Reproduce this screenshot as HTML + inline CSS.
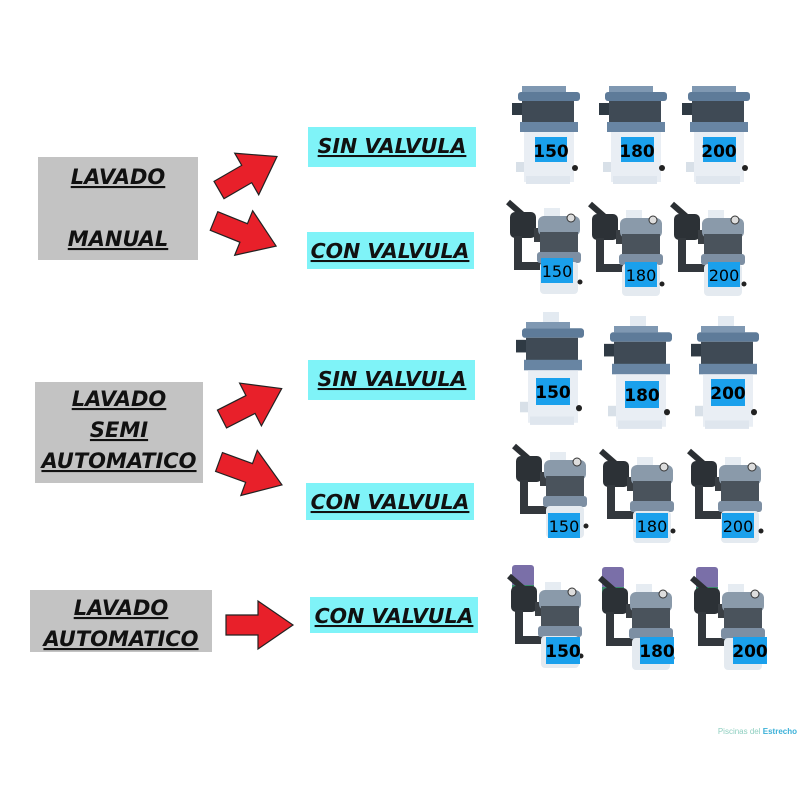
<!DOCTYPE html>
<html><head><meta charset="utf-8"><style>
body{margin:0;background:#fff;}
svg{display:block}
.t{font-family:"DejaVu Sans","Liberation Sans",sans-serif;font-weight:bold;font-style:italic;font-size:20.5px;fill:#111;text-decoration:underline;}
.g{font-size:21px;}
.n{font-family:"DejaVu Sans","Liberation Sans",sans-serif;font-weight:bold;font-size:17px;fill:#000;}
.nl{font-family:"DejaVu Sans","Liberation Sans",sans-serif;font-size:16px;fill:#000;}
</style></head><body>
<svg width="800" height="800" viewBox="0 0 800 800" xmlns="http://www.w3.org/2000/svg">
<defs>
<path id="ar" d="M0,-10 L32,-10 L32,-24 L67,0 L32,24 L32,10 L0,10 Z" fill="#e8202a" stroke="#222" stroke-width="1.2"/>
<g id="sq">
 <rect x="4" y="0" width="44" height="6" fill="#7f98b2"/>
 <rect x="0" y="6" width="62" height="9" rx="3" fill="#5e7b99"/>
 <rect x="-6" y="17" width="10" height="12" fill="#2f3a44"/>
 <rect x="4" y="15" width="52" height="22" fill="#3f4a55"/>
 <rect x="2" y="36" width="58" height="10" fill="#6885a3"/>
 <rect x="6" y="46" width="50" height="50" fill="#e9eef4"/>
 <rect x="-2" y="76" width="8" height="10" fill="#d8e0e8"/>
 <rect x="8" y="90" width="44" height="8" fill="#dfe6ee"/>
 <circle cx="57" cy="82" r="3" fill="#222"/>
</g>
<g id="rd">
 <path d="M-30,0 L-14,14" stroke="#2b2f33" stroke-width="6"/>
 <rect x="-28" y="10" width="26" height="26" rx="5" fill="#2c3136"/>
 <path d="M-20,34 L-20,64 L6,64" stroke="#33383d" stroke-width="8" fill="none"/>
 <rect x="-4" y="26" width="8" height="14" fill="#3a3f44"/>
 <rect x="6" y="6" width="16" height="12" fill="#e6ecf2"/>
 <rect x="0" y="14" width="42" height="20" rx="6" fill="#8a9aaa"/>
 <rect x="2" y="30" width="38" height="22" fill="#4a535c"/>
 <rect x="-1" y="50" width="44" height="11" rx="3" fill="#7d8fa3"/>
 <rect x="2" y="60" width="38" height="32" rx="4" fill="#e4eaf0"/>
 <circle cx="33" cy="16" r="4" fill="#ddd" stroke="#333" stroke-width="1"/>
 <circle cx="42" cy="80" r="2.5" fill="#222"/>
</g>
<g id="au">
 <rect x="-26" y="0" width="22" height="22" rx="3" fill="#7a6fa8"/>
 <rect x="-26" y="20" width="22" height="8" fill="#3a8a6a"/>
</g>
</defs>

<rect x="38" y="157" width="160" height="103" fill="#c3c3c3"/>
<text class="t g" x="118" y="184" text-anchor="middle">LAVADO</text>
<text class="t g" x="118" y="246" text-anchor="middle">MANUAL</text>

<rect x="35" y="382" width="168" height="101" fill="#c3c3c3"/>
<text class="t g" x="119" y="406" text-anchor="middle">LAVADO</text>
<text class="t g" x="119" y="437" text-anchor="middle">SEMI</text>
<text class="t g" x="119" y="468" text-anchor="middle">AUTOMATICO</text>

<rect x="30" y="590" width="182" height="62" fill="#c3c3c3"/>
<text class="t g" x="121" y="615" text-anchor="middle">LAVADO</text>
<text class="t g" x="121" y="646" text-anchor="middle">AUTOMATICO</text>

<use href="#ar" transform="translate(219,190) rotate(-30)"/>
<use href="#ar" transform="translate(214,221) rotate(22)"/>
<use href="#ar" transform="translate(222,419) rotate(-27)"/>
<use href="#ar" transform="translate(219,462) rotate(20)"/>
<use href="#ar" transform="translate(226,625)"/>

<rect x="308" y="127" width="168" height="40" fill="#7ff3f8"/>
<text class="t" x="392" y="153" text-anchor="middle">SIN VALVULA</text>
<rect x="307" y="232" width="167" height="37" fill="#7ff3f8"/>
<text class="t" x="390" y="258" text-anchor="middle">CON VALVULA</text>
<rect x="308" y="360" width="167" height="40" fill="#7ff3f8"/>
<text class="t" x="392" y="386" text-anchor="middle">SIN VALVULA</text>
<rect x="306" y="483" width="168" height="37" fill="#7ff3f8"/>
<text class="t" x="390" y="509" text-anchor="middle">CON VALVULA</text>
<rect x="310" y="597" width="168" height="36" fill="#7ff3f8"/>
<text class="t" x="394" y="623" text-anchor="middle">CON VALVULA</text>

<use href="#sq" x="518" y="86"/><use href="#sq" x="605" y="86"/><use href="#sq" x="688" y="86"/>
<rect x="535" y="137" width="32" height="25" fill="#1aa0ec"/><text class="n" x="551" y="157" text-anchor="middle">150</text>
<rect x="621" y="137" width="33" height="25" fill="#1aa0ec"/><text class="n" x="637" y="157" text-anchor="middle">180</text>
<rect x="703" y="137" width="33" height="25" fill="#1aa0ec"/><text class="n" x="719" y="157" text-anchor="middle">200</text>

<use href="#rd" transform="translate(538,202)"/><use href="#rd" transform="translate(620,204)"/><use href="#rd" transform="translate(702,204)"/>
<rect x="541" y="258" width="32" height="25" fill="#1aa0ec"/><text class="nl" x="557" y="277" text-anchor="middle">150</text>
<rect x="625" y="262" width="32" height="25" fill="#1aa0ec"/><text class="nl" x="641" y="281" text-anchor="middle">180</text>
<rect x="708" y="262" width="32" height="25" fill="#1aa0ec"/><text class="nl" x="724" y="281" text-anchor="middle">200</text>

<rect x="543" y="312" width="16" height="16" fill="#e3eaf1"/>
<rect x="630" y="316" width="16" height="16" fill="#e3eaf1"/>
<rect x="718" y="316" width="16" height="16" fill="#e3eaf1"/>
<use href="#sq" transform="translate(522,322) scale(1,1.05)"/><use href="#sq" transform="translate(610,326) scale(1,1.05)"/><use href="#sq" transform="translate(697,326) scale(1,1.05)"/>
<rect x="536" y="378" width="34" height="27" fill="#1aa0ec"/><text class="n" x="553" y="398" text-anchor="middle">150</text>
<rect x="625" y="381" width="34" height="27" fill="#1aa0ec"/><text class="n" x="642" y="401" text-anchor="middle">180</text>
<rect x="711" y="379" width="34" height="27" fill="#1aa0ec"/><text class="n" x="728" y="399" text-anchor="middle">200</text>

<use href="#rd" transform="translate(544,446)"/><use href="#rd" transform="translate(631,451)"/><use href="#rd" transform="translate(719,451)"/>
<rect x="548" y="513" width="32" height="25" fill="#1aa0ec"/><text class="nl" x="564" y="532" text-anchor="middle">150</text>
<rect x="636" y="513" width="32" height="25" fill="#1aa0ec"/><text class="nl" x="652" y="532" text-anchor="middle">180</text>
<rect x="722" y="513" width="32" height="25" fill="#1aa0ec"/><text class="nl" x="738" y="532" text-anchor="middle">200</text>

<use href="#au" transform="translate(538,565)"/><use href="#au" transform="translate(628,567)"/><use href="#au" transform="translate(722,567)"/>
<use href="#rd" transform="translate(539,576)"/><use href="#rd" transform="translate(630,578)"/><use href="#rd" transform="translate(722,578)"/>
<rect x="546" y="637" width="34" height="27" fill="#1aa0ec"/><text class="n" x="563" y="657" text-anchor="middle">150</text>
<rect x="640" y="637" width="34" height="27" fill="#1aa0ec"/><text class="n" x="657" y="657" text-anchor="middle">180</text>
<rect x="733" y="637" width="34" height="27" fill="#1aa0ec"/><text class="n" x="750" y="657" text-anchor="middle">200</text>

<text x="797" y="734" text-anchor="end" font-family="Liberation Sans, sans-serif" font-size="8" fill="#8fcfc0">Piscinas del <tspan fill="#3ab0d8" font-weight="bold">Estrecho</tspan></text>
</svg>
</body></html>
